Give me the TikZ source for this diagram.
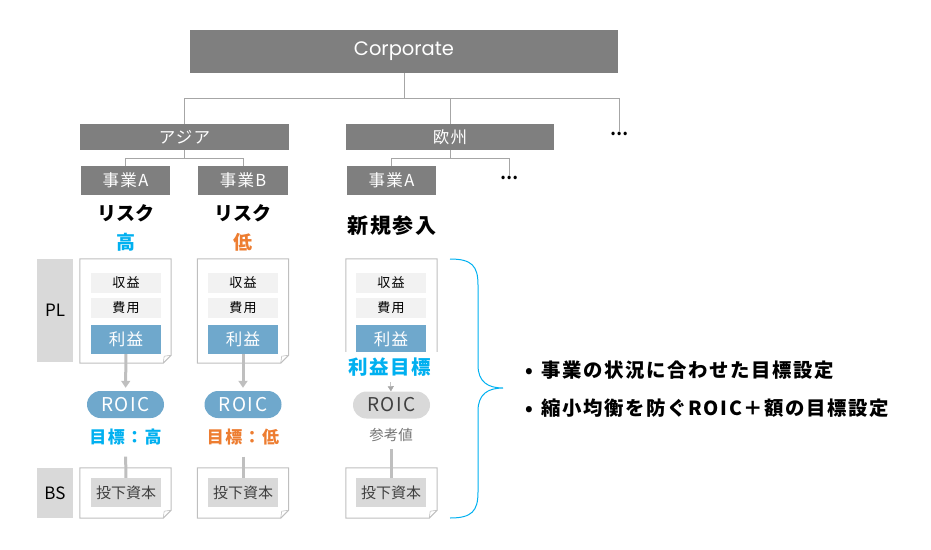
\documentclass[tikz,border=0pt]{standalone}
\usepackage{fontspec}
\setmainfont{Noto Sans CJK JP}
\newfontfamily\spaced[LetterSpace=8]{Noto Sans CJK JP}
\newfontfamily\corpfont{Poppins}
\usetikzlibrary{positioning, arrows.meta, calc}

\definecolor{boxgray}{HTML}{7F7F7F}
\definecolor{linegray}{HTML}{A6A6A6}
\definecolor{docgray}{HTML}{BFBFBF}
\definecolor{labgray}{HTML}{D9D9D9}
\definecolor{rowgray}{HTML}{F2F2F2}
\definecolor{roicblue}{HTML}{6FA8CC}
\definecolor{hicyan}{HTML}{00B0F0}
\definecolor{loorange}{HTML}{ED7D31}

% sheet outline with a folded corner round an empty node
\newcommand{\docframe}[1]{%
  \draw[docgray, line width=1pt] (#1.north west) -- (#1.north east) -- ($(#1.south east)+(0,-8)$)
    -- ($(#1.south east)+(-8,0)$) -- (#1.south west) -- cycle;
  \draw[docgray, line width=0.6pt] ($(#1.south east)+(0,-8)$) -- ($(#1.south east)+(-7,-7)$)
    -- ($(#1.south east)+(-8,0)$);}

\begin{document}
\begin{tikzpicture}[x=1pt, y=-1pt,
    orgbox/.style={fill=boxgray, text=white, inner sep=0, font=\spaced\fontsize{16.5}{18}\selectfont},
    tree/.style={draw=linegray, line width=1pt},
    docnode/.style={inner sep=0, minimum width=91},
    lab/.style={fill=labgray, inner sep=0, minimum width=36, font=\fontsize{17}{19}\selectfont},
    rowbox/.style={fill=rowgray, inner sep=0, minimum width=70, minimum height=20, font=\spaced\fontsize{13}{15}\selectfont},
    profbox/.style={fill=roicblue, text=white, inner sep=0, minimum width=70, minimum height=29, font=\spaced\fontsize{16.5}{18}\selectfont},
    roic/.style={fill=roicblue, text=white, rounded corners=13.5, inner sep=0, minimum width=77, minimum height=27, font=\spaced\fontsize{19}{21}\selectfont},
    capbox/.style={fill=labgray, text=black!75, inner sep=0, minimum width=70, minimum height=29, font=\fontsize{15}{17}\selectfont},
    big/.style={font=\fontsize{19}{21}\selectfont\bfseries},
    goal/.style={font=\spaced\fontsize{17}{19}\selectfont\bfseries},
    flow/.style={draw=docgray, line width=3pt},
    point/.style={anchor=west, inner sep=0, font=\spaced\fontsize{19.4}{21}\selectfont\bfseries},
  ]
    \useasboundingbox (0,0) rectangle (931,549);

    % organisation tree
    \node[orgbox, minimum width=428, minimum height=43, font=\corpfont\fontsize{19.5}{21}\selectfont] (corp) at (404,51.5) {Corporate};
    \node[orgbox, minimum width=209, minimum height=26] (asia) at (184.5,137) {アジア};
    \node[orgbox, minimum width=208, minimum height=26] (eu) at (450,137) {欧州};
    \node[inner sep=0, font=\fontsize{16}{18}\selectfont\bfseries] (more) at (619,134) {…};
    \node[orgbox, minimum width=89, minimum height=29] (bizA) at (125.5,180.5) {事業A};
    \node[orgbox, minimum width=90, minimum height=29] (bizB) at (243,180.5) {事業B};
    \node[orgbox, minimum width=89, minimum height=29] (euA) at (391.5,180.5) {事業A};
    \node[inner sep=0, font=\fontsize{16}{18}\selectfont\bfseries] (euMore) at (509,178) {…};

    \coordinate (hub) at (404,98);
    \coordinate (asiaHub) at (184.5,158);
    \coordinate (euHub) at (450,158);
    \draw[tree] (corp.south) -- (hub) -| (asia.north);
    \draw[tree] (hub) -| (eu.north);
    \draw[tree] (hub) -| (more.north);
    \draw[tree] (asia.south) -- (asiaHub) -| (bizA.north);
    \draw[tree] (asiaHub) -| (bizB.north);
    \draw[tree] (eu.south) -- (euHub) -| (euA.north);
    \draw[tree] (euHub) -| (euMore.north);

    % risk
    \node[big] (riskA) at (125.5,213) {リスク};
    \node[big, text=hicyan] (levelA) at (125.5,242) {高};
    \node[big] (riskB) at (243,213) {リスク};
    \node[big, text=loorange] (levelB) at (243,242) {低};
    \node[font=\spaced\fontsize{21}{23}\selectfont\bfseries] (entry) at (392,226) {新規参入};

    % PL / BS
    \node[lab, minimum height=103] (plLab) at (55,310.5) {PL};
    \node[lab, minimum height=50] (bsLab) at (55,493) {BS};

    \node[docnode, minimum height=104] (plA) at (125.5,311) {};
    \node[docnode, minimum height=104] (plB) at (243,311) {};
    \node[docnode, minimum height=104] (plE) at (391.5,311) {};
    \docframe{plA}
    \docframe{plB}
    \docframe{plE}
    \node[docnode, minimum height=50] (bsA) at (125.5,493) {};
    \node[docnode, minimum height=50] (bsB) at (243,493) {};
    \node[docnode, minimum height=50] (bsE) at (391.5,493) {};
    \docframe{bsA}
    \docframe{bsB}
    \docframe{bsE}

    \node[rowbox] (revA) at (126,283) {収益};
    \node[rowbox] (costA) at (126,308) {費用};
    \node[profbox] (profA) at (126,339.5) {利益};
    \node[rowbox] (revB) at (243,283) {収益};
    \node[rowbox] (costB) at (243,308) {費用};
    \node[profbox] (profB) at (243,339.5) {利益};
    \node[rowbox] (revE) at (391,283) {収益};
    \node[rowbox] (costE) at (391,308) {費用};
    \node[profbox] (profE) at (391,339.5) {利益};

    \node[capbox] (capA) at (126,492.5) {投下資本};
    \node[capbox] (capB) at (243,492.5) {投下資本};
    \node[capbox] (capE) at (391,492.5) {投下資本};

    % ROIC
    \node[roic] (roicA) at (125.5,404.5) {ROIC};
    \node[roic] (roicB) at (243,404.5) {ROIC};
    \node[roic, fill=labgray, text=black!75] (roicE) at (391.5,405) {ROIC};
    \node[goal, text=hicyan] (goalA) at (125.5,437) {目標：高};
    \node[goal, text=loorange] (goalB) at (243,437) {目標：低};
    \node[goal, text=hicyan, fill=white, inner sep=0, minimum width=97, minimum height=30,
          font=\spaced\fontsize{19.5}{21}\selectfont\bfseries] (targetE) at (390,367) {利益目標};
    \node[text=black!55, font=\fontsize{14.5}{16}\selectfont] (refE) at (391,435) {参考値};

    \draw[flow, -{Triangle[length=7pt, width=9pt]}, shorten >=3pt] (profA) -- (roicA);
    \draw[flow, -{Triangle[length=7pt, width=9pt]}, shorten >=3pt] (profB) -- (roicB);
    \draw[linegray, line width=0.5pt, -{Triangle[length=5pt, width=6pt]}] (targetE) -- (roicE);
    \draw[flow, shorten <=8pt] (goalA) -- (capA);
    \draw[flow, shorten <=8pt] (goalB) -- (capB);
    \draw[flow, shorten <=4pt] (refE) -- (capE);

    % brace and notes
    \coordinate (braceTop) at (450,259);
    \coordinate (braceBot) at (450,518);
    \coordinate (braceTip) at (503,388);
    \draw[hicyan, line width=1pt] (braceTop) .. controls (472,259) and (478,266) .. (478,285)
        -- (478,365) .. controls (478,382) and (488,388) .. (braceTip)
        .. controls (488,388) and (478,394) .. (478,411)
        -- (478,492) .. controls (478,511) and (472,518) .. (braceBot);

    \node[point] (pointA) at (525,370) {•\hspace{9pt}事業の状況に合わせた目標設定};
    \node[point] (pointB) at (525,408) {•\hspace{9pt}縮小均衡を防ぐROIC＋額の目標設定};
\end{tikzpicture}
\end{document}
